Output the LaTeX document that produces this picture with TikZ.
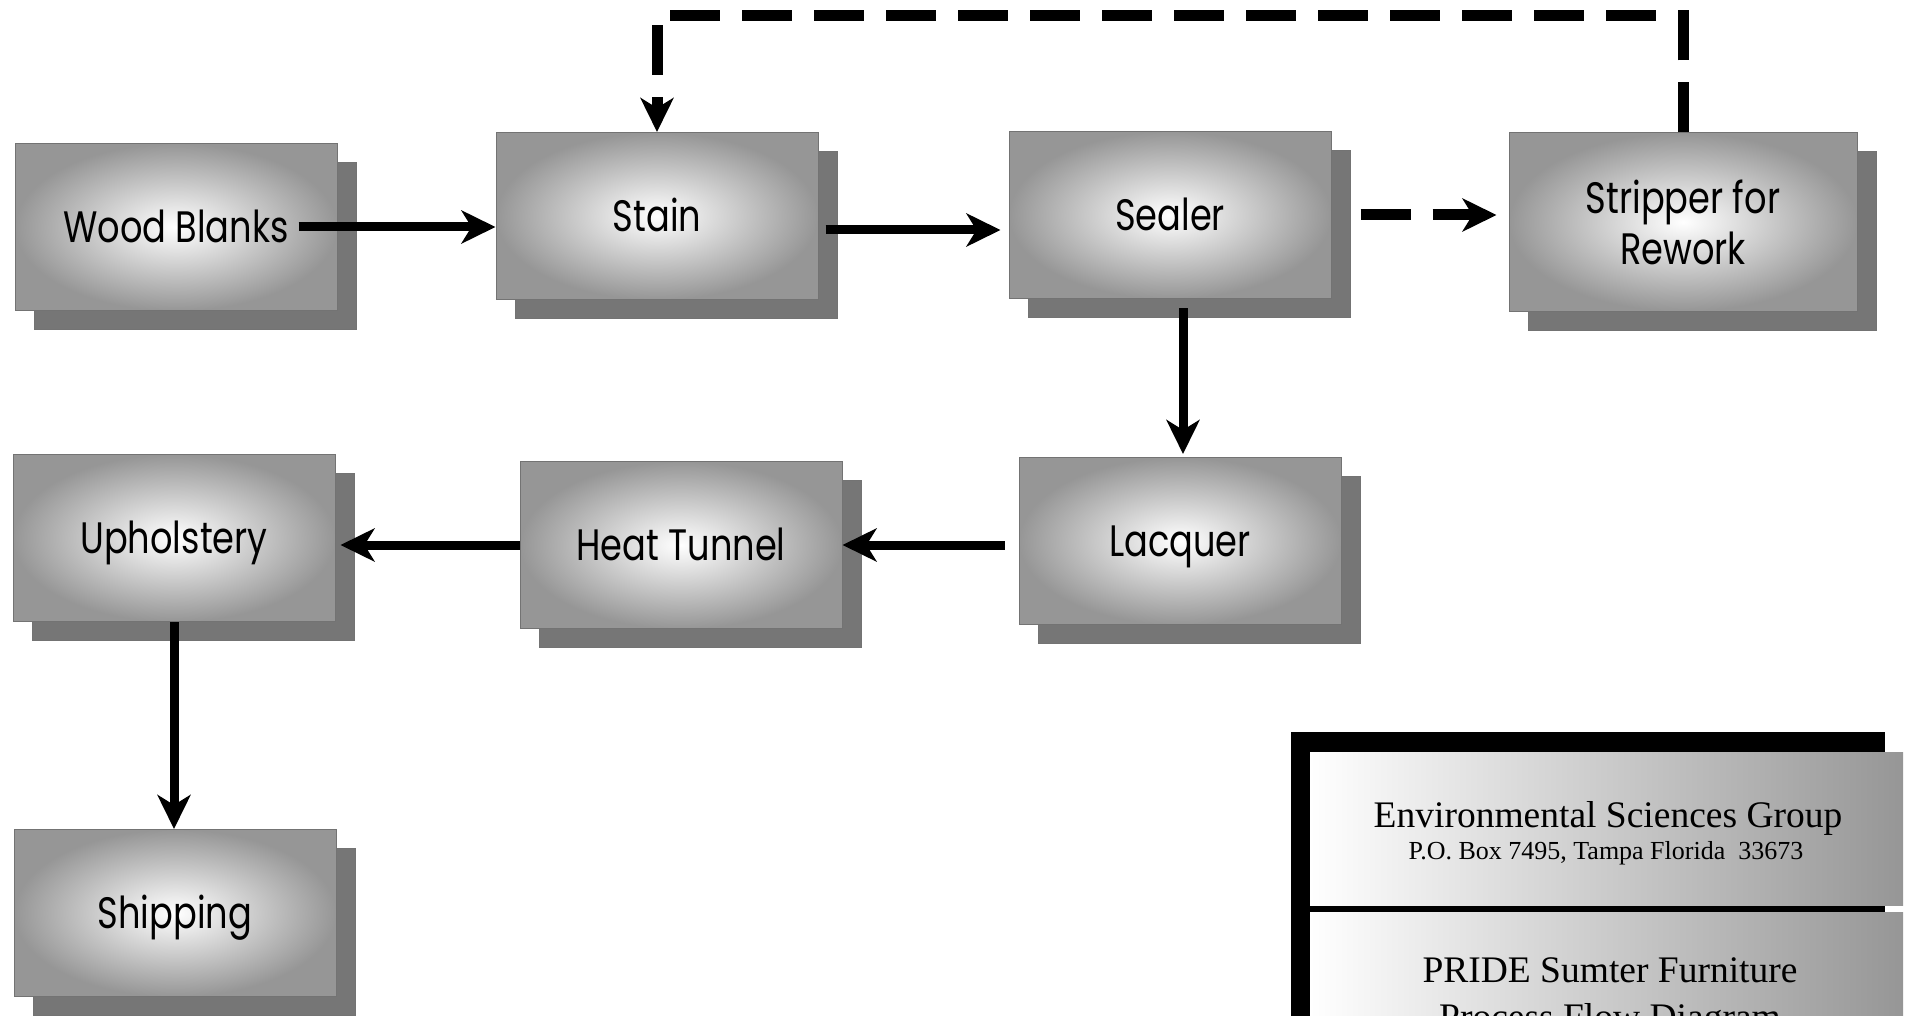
\documentclass[tikz,border=0pt]{standalone}
\usepackage{fontspec}
\setmainfont{Liberation Serif}
\newfontfamily\boxfont[FakeStretch=0.8]{Poppins}
\usetikzlibrary{arrows.meta, shadows, calc}
\definecolor{cdot}{HTML}{969696}
\definecolor{cshade}{HTML}{767676}
\tikzset{
  every picture/.style={line width=1pt},
  boxbase/.style={rectangle, draw=black!55, line width=1pt, inner sep=0pt,
    minimum width=322pt, minimum height=167pt, align=center,
    inner color=white, outer color=cdot,
    general shadow={shadow xshift=19pt, shadow yshift=-19pt, fill=cshade, draw=black!55},
    font=\boxfont\fontsize{44}{51}\selectfont},
  procbox/.style={boxbase, text height=31pt, text depth=0pt},
  flow/.style={-{Stealth[length=34pt, width=33pt, inset=10pt]}, line width=9pt, draw=black},
  rework/.style={flow, line width=11pt, dash pattern=on 50pt off 22pt},
  panel/.style={left color=white, right color=cdot},
  title/.style={font=\fontsize{37.5}{40}\selectfont, anchor=base},
  address/.style={font=\fontsize{26}{30}\selectfont, anchor=base},
}

\begin{document}
\begin{tikzpicture}[x=1pt, y=-1pt]
  \clip (0,0) rectangle (1908,1016);
  % top row of steps
  \node[procbox] (wood) at (176,227) {Wood Blanks};
  \node[procbox] (stain) at (657,216) {Stain};
  \node[procbox] (sealer) at (1170,215) {Sealer};
  \node[boxbase, minimum width=348pt, minimum height=178pt] (strip) at (1683,222) {Stripper for\\Rework};
  % bottom rows
  \node[procbox] (uph) at (174,538) {Upholstery};
  \node[procbox] (heat) at (681,545) {Heat Tunnel};
  \node[procbox] (lacquer) at (1180,541) {Lacquer};
  \node[procbox] (ship) at (175,913) {Shipping};

  % main flow
  \draw[flow] ([xshift=-39pt]wood.east) -- (wood.east -| stain.west);
  \coordinate (stainout) at ($(stain.east)+(7,14)$);
  \draw[flow, shorten >=8pt] (stainout) -- (stainout -| sealer.west);
  \coordinate (sealout) at ($(sealer.south)+(13,9)$);
  \draw[flow, shorten >=3pt] (sealout) -- (sealout |- lacquer.north);
  \coordinate (lacqout) at ($(lacquer.west)+(-14,4)$);
  \draw[flow] (lacqout) -- (lacqout -| heat.east);
  \draw[flow, shorten >=5pt] (heat.west) -- (heat.west -| uph.east);
  \draw[flow] (uph.south) -- (uph.south |- ship.north);

  % rework loop
  \coordinate (reworkout) at ($(sealer.east)+(29,0)$);
  \draw[rework, shorten >=12pt] (reworkout) -- (reworkout -| strip.west);
  \coordinate (looptop) at (1000,16);
  \draw[rework] (strip.north) -- (strip.north |- looptop) -- (stain.north |- looptop) -- (stain.north);

  % title block
  \fill[black] (1291,732) rectangle (1885,1030);
  \shade[panel] (1310,752) rectangle (1903,905);
  \shade[panel] (1310,912) rectangle (1903,1040);
  \node[title] (group) at (1608,827) {Environmental Sciences Group};
  \node[address] (addr) at (1606,859) {P.O. Box 7495, Tampa Florida\enspace 33673};
  \node[title] (client) at (1610,982) {PRIDE Sumter Furniture};
  \node[title] (kind) at (1610,1029) {Process Flow Diagram};
\end{tikzpicture}
\end{document}
